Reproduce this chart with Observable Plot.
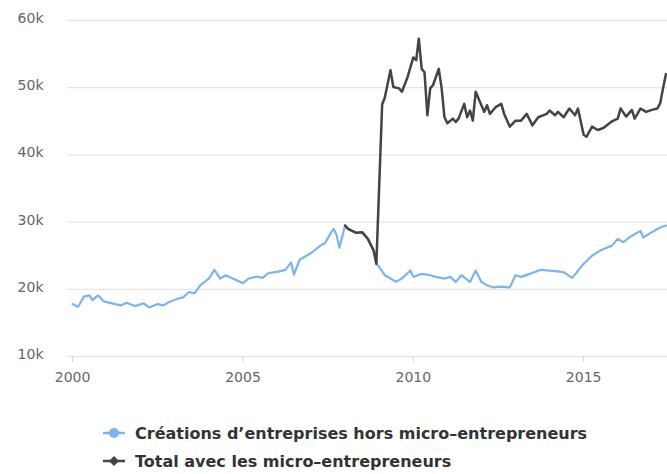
<!DOCTYPE html>
<html>
<head>
<meta charset="utf-8">
<script src="https://cdn.jsdelivr.net/npm/d3@7"></script>
<script src="https://cdn.jsdelivr.net/npm/@observablehq/plot@0.6"></script>
<style>
  body { margin: 0; background: #fff; }
  #chart { width: 667px; }
  .legend { padding: 27px 0 0 103px; font: bold 16px "DejaVu Sans", sans-serif; color: #333; }
  .item { display: flex; align-items: center; height: 28px; white-space: nowrap; }
  .item svg { margin-right: 10px; flex: none; }
</style>
</head>
<body>
<div id="chart"></div>
<div class="legend" id="legend"></div>
<script>
// Monthly business creations in France (number of new companies)
const seriesNames = [
  "Créations d’entreprises hors micro–entrepreneurs",
  "Total avec les micro–entrepreneurs"
];
const seriesColors = ["#7cb5ec", "#434348"];

// Creations excluding micro-entrepreneurs
const horsMonths = [
  "2000-01","2000-03","2000-05","2000-07","2000-08","2000-10","2000-12",
  "2001-03","2001-06","2001-08","2001-11",
  "2002-02","2002-04","2002-07","2002-09","2002-11",
  "2003-02","2003-04","2003-06","2003-08","2003-10",
  "2004-01","2004-03","2004-05","2004-07","2004-10",
  "2005-01","2005-03","2005-06","2005-08","2005-10",
  "2006-01","2006-04","2006-06","2006-07","2006-09",
  "2007-01","2007-04","2007-06","2007-08","2007-09","2007-10","2007-11",
  "2008-01","2008-02","2008-04","2008-05","2008-07","2008-09","2008-11","2008-12",
  "2009-01","2009-03","2009-05","2009-07","2009-09","2009-12",
  "2010-01","2010-04","2010-07","2010-09","2010-12",
  "2011-02","2011-04","2011-06","2011-09","2011-11",
  "2012-01","2012-03","2012-05","2012-08","2012-11",
  "2013-01","2013-03","2013-06","2013-10",
  "2014-03","2014-06","2014-09",
  "2015-01","2015-04","2015-07","2015-11",
  "2016-01","2016-03","2016-05","2016-09","2016-10",
  "2017-01","2017-04","2017-06"
];
const horsValues = [
  17800,17400,18900,19100,18400,19100,18200,
  17900,17600,18000,17500,
  17900,17300,17800,17600,18100,
  18600,18800,19600,19400,20600,
  21600,22900,21600,22100,21500,
  20900,21600,21900,21700,22400,
  22600,22900,24000,22200,24400,
  25400,26400,26900,28400,29000,28100,26200,
  29500,29000,28600,28400,28500,27500,25800,23800,
  23300,22100,21600,21100,21600,22800,
  21850,22300,22100,21850,21600,
  21850,21100,22100,21100,22800,
  21100,20600,20300,20400,20300,
  22100,21850,22300,22900,
  22700,22550,21700,
  23800,25000,25800,26500,
  27500,27000,27700,28700,27700,
  28500,29200,29500
];

// Total including micro-entrepreneurs (same as above until the regime starts in 2009)
const totalMonths = [
  "2008-01","2008-02","2008-04","2008-05","2008-07","2008-09","2008-11","2008-12",
  "2009-02","2009-03","2009-05","2009-06","2009-08","2009-09","2009-11",
  "2010-01","2010-02","2010-03","2010-04","2010-05","2010-06","2010-07","2010-08","2010-10","2010-11","2010-12",
  "2011-01","2011-03","2011-04","2011-05","2011-07","2011-08","2011-09","2011-10","2011-11",
  "2012-01","2012-02","2012-03","2012-04","2012-06","2012-08","2012-09","2012-11",
  "2013-01","2013-03","2013-05","2013-07","2013-09","2013-12",
  "2014-01","2014-03","2014-04","2014-06","2014-08","2014-10","2014-11",
  "2015-01","2015-02","2015-04","2015-06","2015-08","2015-11",
  "2016-01","2016-02","2016-04","2016-06","2016-07","2016-09","2016-11",
  "2017-01","2017-03","2017-04","2017-05","2017-06"
];
const totalValues = [
  29500,29000,28600,28400,28500,27500,25800,23800,
  47500,48500,52600,50100,49900,49400,51600,
  54500,54100,57300,52800,52300,45900,49900,50400,52800,49900,45600,
  44700,45400,44900,45400,47600,45600,46600,45100,49400,
  47400,46400,47400,46100,47100,47600,46100,44200,
  45100,45100,46100,44400,45600,46100,
  46600,45900,46400,45600,46900,45900,46900,
  43000,42700,44200,43700,44000,45000,
  45400,46900,45700,46700,45400,46900,46400,
  46700,46900,47700,49900,52000
];

const yTicks = [10000, 20000, 30000, 40000, 50000, 60000];
const xTickYears = ["2000", "2005", "2010", "2015"];

const parseMonth = d3.utcParse("%Y-%m");
const hors = horsMonths.map((m, i) => ({date: parseMonth(m), value: horsValues[i]}));
const total = totalMonths.map((m, i) => ({date: parseMonth(m), value: totalValues[i]}));
const xTicks = xTickYears.map(y => d3.utcParse("%Y")(y));

const chart = Plot.plot({
  width: 667,
  height: 392,
  marginLeft: 67,
  marginRight: 0,
  marginTop: 20,
  marginBottom: 36,
  style: {fontFamily: "'DejaVu Sans', sans-serif", fontSize: "14px", background: "#fff", overflow: "visible"},
  x: {type: "utc", domain: [new Date(Date.UTC(1999, 10, 8)), new Date(Date.UTC(2017, 5, 18))]},
  y: {domain: [10000, 60000]},
  marks: [
    Plot.ruleY(yTicks, {stroke: "#e6e6e6", strokeWidth: 1.3}),
    Plot.axisY(yTicks, {tickSize: 0, tickPadding: 24, dy: -2, fill: "#666",
      tickFormat: d => d / 1000 + "k", label: null}),
    Plot.axisX(xTicks, {tickSize: 6, stroke: "#ccd6eb", tickPadding: 10, fill: "#666",
      tickFormat: d3.utcFormat("%Y"), label: null}),
    Plot.line(hors, {x: "date", y: "value", stroke: seriesColors[0], strokeWidth: 2.2,
      clip: true, strokeLinejoin: "round"}),
    Plot.line(total, {x: "date", y: "value", stroke: seriesColors[1], strokeWidth: 2.5,
      clip: true, strokeLinejoin: "round"})
  ]
});
document.getElementById("chart").append(chart);

// Legend: line symbol with circle / diamond marker, then the series name
const legend = d3.select("#legend");
seriesNames.forEach((name, i) => {
  const item = legend.append("div").attr("class", "item");
  const svg = item.append("svg").attr("width", 22).attr("height", 14);
  svg.append("line").attr("x1", 0).attr("x2", 22).attr("y1", 7).attr("y2", 7)
    .attr("stroke", seriesColors[i]).attr("stroke-width", 2.5);
  if (i === 0) {
    svg.append("circle").attr("cx", 11).attr("cy", 7).attr("r", 5).attr("fill", seriesColors[i]);
  } else {
    svg.append("path").attr("d", "M11,2 L16,7 L11,12 L6,7 Z").attr("fill", seriesColors[i]);
  }
  item.append("span").text(name);
});
</script>
</body>
</html>
